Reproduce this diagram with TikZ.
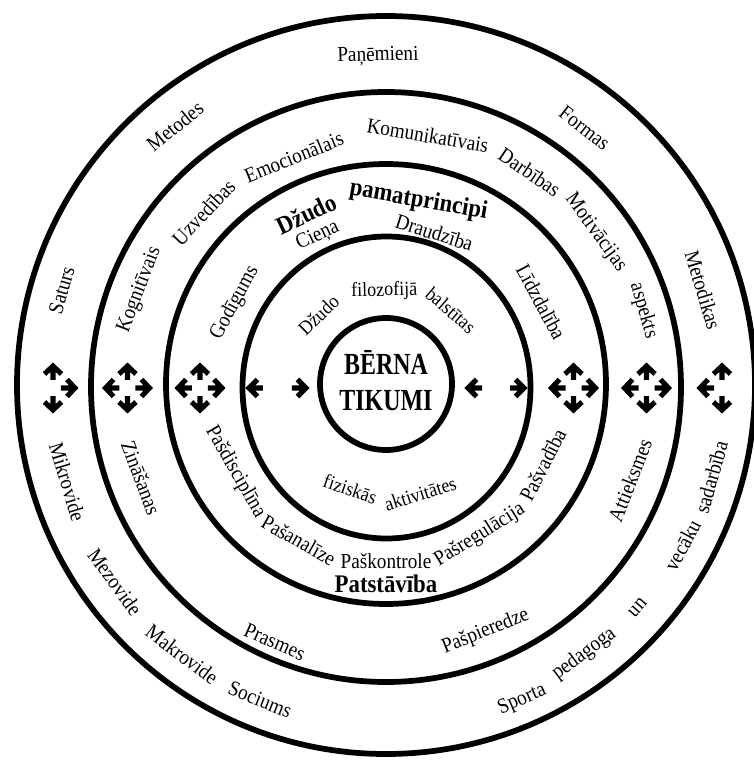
\documentclass[tikz,border=0pt]{standalone}
\usepackage{fontspec}
\setmainfont[FakeStretch=0.9]{Liberation Serif}
\newfontfamily\condfont[FakeStretch=0.78]{Liberation Serif}
% word on the upper half (reads clockwise): [style] name, centre radius, angle, text
\newcommand\tw[5][lbl]{\node[#1,rotate=#4-90] (#2) at (#4:#3) {#5};}
% word on the lower half (reads counter-clockwise)
\newcommand\bw[5][lbl]{\node[#1,rotate=#4+90] (#2) at (#4:#3) {#5};}
\tikzset{
  lbl/.style={font=\fontsize{16}{18}\selectfont,inner sep=0pt},
  lbls/.style={font=\fontsize{15}{17}\selectfont,inner sep=0pt},
  hd/.style={font=\fontsize{19}{22}\selectfont\bfseries,inner sep=0pt},
  ring/.style={line width=4.3pt},
  arrline/.style={line width=3.8pt,line cap=butt,line join=miter},
  arrE/.pic={\draw[arrline] (8,0) -- (22,0) (14,8.5) -- (22,0) -- (14,-8.5);},
  arrS/.pic={\draw[arrline] (-9,0) -- (5,0) (-3.5,8.5) -- (5,0) -- (-3.5,-8.5);},
}
\begin{document}
\begin{tikzpicture}[x=0.75pt,y=0.75pt]
\useasboundingbox (-386,-375) rectangle (367,385);
% rings
\draw[ring] (0,0) circle[radius=369];
\draw[ring] (0,-2) circle[radius=295];
\draw[ring] (0,1) circle[radius=220];
\draw[ring] (0.5,-2.5) ellipse[x radius=144,y radius=151];
\draw[ring] (0,1) circle[radius=66];
% centre
\node[font=\condfont\fontsize{23}{27}\selectfont\bfseries,align=center,inner sep=0] (core) at (0,4) {BĒRNA\\TIKUMI};
% arrows
\foreach \p in {-258.5,-186,187.5,260.5}
  \foreach \a in {0,90,180,270}
    \pic[rotate=\a] at (\p,-3) {arrE};
\foreach \a in {90,0,270} \pic[rotate=\a] at (-333,-3) {arrE};
\foreach \a in {90,180,270} \pic[rotate=\a] at (336,-3) {arrE};
\pic[rotate=180] at (-132,-3) {arrS};
\pic at (-85,-3) {arrS};
\pic[rotate=180] at (87,-3) {arrS};
\pic at (133,-3) {arrS};
% outer ring labels
\tw{o1}{329}{91.4}{Paņēmieni}
\tw{o2}{334}{129.2}{Metodes}
\tw{o3}{325}{52.3}{Formas}
\tw{o4}{338}{163.7}{Saturs}
\tw{o5}{331}{16.7}{Metodikas}
\bw{o6}{333}{196.9}{Mikrovide}
\bw{o7}{335}{216}{Mezovide}
\bw{o8}{338}{232.9}{Makrovide}
\bw{o9}{339}{248.2}{Sociums}
\bw{o10}{343}{293.4}{Sporta}
\bw{o11}{334}{306.4}{pedagoga}
\bw{o12}{336}{318.5}{un}
\bw{o13}{337}{331.6}{vecāku}
\bw{o14}{338}{344.2}{sadarbība}
% second ring labels
\tw{s1}{253}{80.5}{Komunikatīvais}
\tw{s2}{246}{112}{Emocionālais}
\tw{s3}{251}{136.6}{Uzvedības}
\tw{s4}{257}{56}{Darbības}
\tw{s5}{259}{36}{Motivācijas}
\tw{s6}{268}{16.1}{aspekts}
\tw{s7}{264}{158.9}{Kognitīvais}
\bw{s8}{262}{200.8}{Zināšanas}
\bw{s9}{280}{246.6}{Prasmes}
\bw{s10}{266}{292}{Pašpieredze}
\bw{s11}{262}{338.7}{Attieksmes}
% third ring labels
\tw[hd]{t1}{189}{115}{Džudo}
\tw[hd]{t2}{187}{80}{pamatprincipi}
\tw{t3}{164}{114.6}{Cieņa}
\tw{t4}{160}{72.4}{Draudzība}
\tw{t5}{172}{151.5}{Godīgums}
\tw{t6}{176}{28.2}{Līdzdalība}
\bw{t7}{174}{210}{Pašdisciplīna}
\bw{t8}{178}{240.7}{Pašanalīze}
\bw{t9}{176}{270}{Paškontrole}
\bw{t10}{177}{302}{Pašregulācija}
\bw{t11}{176}{333}{Pašvadība}
\bw[hd]{t12}{199}{270}{Patstāvība}
% fourth ring labels
\tw[lbls]{f1}{97}{134}{Džudo}
\tw[lbls]{f2}{94}{91}{filozofijā}
\tw[lbls]{f3}{99}{49}{balstītas}
\bw[lbls]{f4}{110}{251}{fiziskās}
\bw[lbls]{f5}{114}{287.5}{aktivitātes}
\end{tikzpicture}
\end{document}
